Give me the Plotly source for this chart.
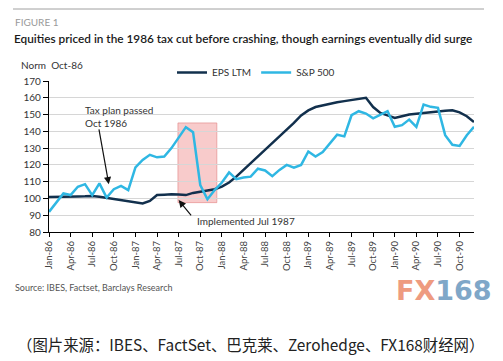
import plotly.graph_objects as go

W, H = 503, 361

months = ["Jan", "Feb", "Mar", "Apr", "May", "Jun", "Jul", "Aug", "Sep", "Oct", "Nov", "Dec"]
dates = [f"{m}-{y}" for y in ["86", "87", "88", "89", "90"] for m in months]

eps_ltm = [100.8, 101.0, 101.0, 101.0, 101.2, 101.3, 101.5, 101.0, 100.3, 99.5,
           98.7, 98.0, 97.7, 97.0, 98.5, 102.0, 102.2, 102.5, 102.3, 102.0,
           103.3, 104.0, 104.8, 105.5, 107.0, 109.5, 113.0, 117.0, 121.0, 125.0,
           128.5, 132.5, 136.5, 140.5, 145.0, 149.5, 152.5, 154.5, 155.5, 156.5,
           157.3, 158.0, 158.8, 159.5, 160.0, 154.5, 151.0, 149.5, 148.0, 149.0,
           150.0, 150.5, 151.0, 151.5, 151.8, 152.3, 152.5, 151.3, 149.0, 145.5]

sp500 = [92.0, 97.5, 103.0, 102.0, 107.0, 108.5, 102.0, 109.0, 100.5, 105.5,
         107.5, 105.0, 118.5, 123.0, 126.0, 124.5, 125.0, 130.0, 136.0, 142.5,
         139.5, 108.0, 99.5, 105.0, 109.5, 115.5, 111.5, 112.5, 113.0, 117.7,
         116.7, 113.3, 117.0, 120.0, 118.3, 120.0, 128.0, 125.0, 127.6, 132.7,
         138.0, 137.0, 149.6, 152.0, 150.6, 147.7, 150.0, 152.0, 142.7, 143.7,
         147.0, 142.7, 156.0, 154.6, 154.0, 137.7, 132.0, 131.3, 137.7, 142.7]

tick_idx = list(range(0, 60, 3))
tick_labels = [dates[i] for i in tick_idx]

# highlighted crash window (month index, value)
crash_x = [17.9, 23.3]
crash_y = [97.5, 145.0]

EPS_COLOR = "#12304d"
SP_COLOR = "#2fb7e3"
FONT = "Lato"

def px(x):
    return x / W

def py(y):
    return 1 - y / H

idx = list(range(len(dates)))

fig = go.Figure()
fig.add_trace(go.Scatter(x=idx, y=eps_ltm, mode="lines", name="EPS LTM",
                         line=dict(color=EPS_COLOR, width=2.5)))
fig.add_trace(go.Scatter(x=idx, y=sp500, mode="lines", name="S&P 500",
                         line=dict(color=SP_COLOR, width=2.5)))

fig.add_shape(type="rect", xref="x", yref="y", x0=crash_x[0], x1=crash_x[1],
              y0=crash_y[0], y1=crash_y[1], fillcolor="rgba(240,140,140,0.45)",
              line=dict(color="rgba(225,130,130,0.6)", width=1), layer="below")

# top rule
fig.add_shape(type="line", xref="paper", yref="paper", x0=px(13), x1=px(484),
              y0=py(9), y1=py(9), line=dict(color="#a0a0a0", width=1))

fig.update_layout(
    width=W, height=H,
    margin=dict(l=0, r=0, t=0, b=0),
    paper_bgcolor="white", plot_bgcolor="white",
    font=dict(family=FONT, color="#333333", size=10),
    showlegend=True,
    legend=dict(orientation="h", x=px(172), y=py(58), xanchor="left", yanchor="top",
                font=dict(size=10, color="#333333"), bgcolor="rgba(0,0,0,0)",
                itemwidth=30, tracegroupgap=0),
    xaxis=dict(domain=[px(49), px(474)], range=[0, 59], tickvals=tick_idx,
               ticktext=tick_labels, tickangle=-90, showgrid=False,
               showline=True, linecolor="#000000", linewidth=1.3,
               ticks="outside", ticklen=4, tickcolor="#000000", automargin=False,
               tickfont=dict(size=9.5, color="#444444"), zeroline=False),
    yaxis=dict(domain=[py(232), py(81)], range=[80, 170], dtick=10,
               showgrid=True, gridcolor="#d6d6d6", gridwidth=1,
               showline=True, linecolor="#000000", linewidth=1.3,
               ticks="outside", ticklen=5, tickcolor="#000000", automargin=False,
               tickfont=dict(size=10, color="#333333"), zeroline=False),
)

ann = []
ann.append(dict(text="FIGURE 1", x=px(13), y=py(22), xref="paper", yref="paper",
                xanchor="left", yanchor="middle", showarrow=False,
                font=dict(size=10, color="#9a9a9a")))
ann.append(dict(text="Equities priced in the 1986 tax cut before crashing, though earnings eventually did surge",
                x=px(12), y=py(38), xref="paper", yref="paper",
                xanchor="left", yanchor="middle", showarrow=False,
                font=dict(size=11.8, color="#1a1a1a", weight=600)))
ann.append(dict(text="Norm  Oct-86", x=px(19), y=py(65), xref="paper", yref="paper",
                xanchor="left", yanchor="middle", showarrow=False,
                font=dict(size=10, color="#333333")))
ann.append(dict(text="Source: IBES, Factset, Barclays Research", x=px(13), y=py(287),
                xref="paper", yref="paper", xanchor="left", yanchor="middle",
                showarrow=False, font=dict(size=9, color="#555555")))
ann.append(dict(text="Tax plan passed<br>Oct 1986", x=px(83), y=py(116), xref="paper",
                yref="paper", xanchor="left", yanchor="middle", showarrow=False,
                align="left", font=dict(size=10, color="#333333")))
ann.append(dict(text="Implemented Jul 1987", x=px(195), y=py(221), xref="paper",
                yref="paper", xanchor="left", yanchor="middle", showarrow=False,
                font=dict(size=10, color="#333333")))
# arrows
ann.append(dict(text="", x=8.3, y=108.5, xref="x", yref="y", ax=6.9, ay=142,
                axref="x", ayref="y", showarrow=True, arrowhead=2, arrowsize=1.2,
                arrowwidth=1.2, arrowcolor="#111111"))
ann.append(dict(text="", x=18.0, y=99.0, xref="x", yref="y", ax=19.9, ay=89.0,
                axref="x", ayref="y", showarrow=True, arrowhead=2, arrowsize=1.2,
                arrowwidth=1.2, arrowcolor="#111111"))
# FX168 logo
ann.append(dict(text="<b><span style='color:#ee9b80'>FX</span><span style='color:#7fa7c8'>168</span></b>",
                x=px(394), y=py(290), xref="paper", yref="paper", xanchor="left",
                yanchor="middle", showarrow=False,
                font=dict(size=27, family="DejaVu Sans")))
ann.append(dict(text="（图片来源：IBES、FactSet、巴克莱、Zerohedge、FX168财经网）",
                x=px(250), y=py(344), xref="paper", yref="paper", xanchor="center",
                yanchor="middle", showarrow=False,
                font=dict(size=15.4, family="Noto Sans CJK SC", color="#222222")))
fig.update_layout(annotations=ann)

fig.write_html("out.html", config={"displayModeBar": False},
               post_script="document.body.style.margin='0px';")
